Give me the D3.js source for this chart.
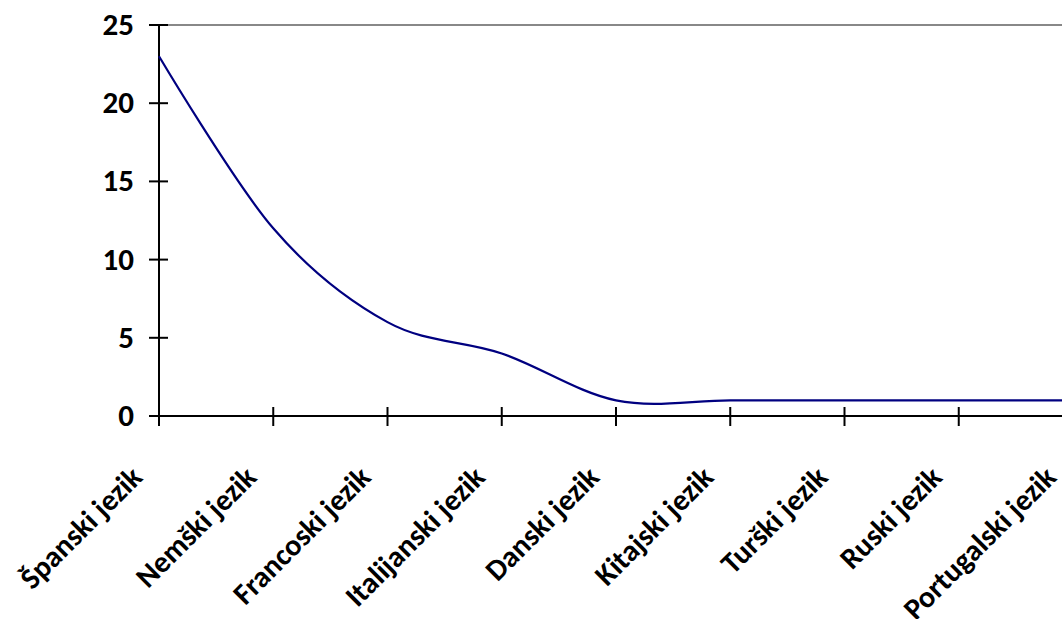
<!DOCTYPE html>
<html><head><meta charset="utf-8">
<script src="https://cdn.jsdelivr.net/npm/d3@7"></script>
<style>
html,body{margin:0;padding:0;background:#fff;overflow:hidden}
svg{display:block}
text{font-family:Carlito,"Open Sans",sans-serif;font-weight:bold;fill:#000}
</style></head>
<body>
<svg id="c" width="1062" height="619"></svg>
<script>
const categories = ["Španski jezik","Nemški jezik","Francoski jezik","Italijanski jezik","Danski jezik","Kitajski jezik","Turški jezik","Ruski jezik","Portugalski jezik"];
const values = [23, 12, 6, 4, 1, 1, 1, 1, 1];
const yTicks = [0, 5, 10, 15, 20, 25];

const svg = d3.select("#c");
const x0 = 159, x1 = 1073, yB = 416, yT = 25;
const x = d3.scalePoint().domain(categories).range([x0, x1]);
const y = d3.scaleLinear().domain([0, 25]).range([yB, yT]);

// top gray border
svg.append("line").attr("x1", x0).attr("x2", 1062).attr("y1", y(25)).attr("y2", y(25))
  .attr("stroke", "#888").attr("stroke-width", 2);

// y axis
const ya = svg.append("g");
ya.append("line").attr("x1", x0).attr("x2", x0).attr("y1", yT).attr("y2", yB + 10)
  .attr("stroke", "#000").attr("stroke-width", 2);
ya.selectAll("line.t").data(yTicks).join("line").attr("class", "t")
  .attr("x1", x0 - 10).attr("x2", x0 + 9).attr("y1", d => y(d)).attr("y2", d => y(d))
  .attr("stroke", "#000").attr("stroke-width", 2);
ya.selectAll("text").data(yTicks).join("text")
  .attr("x", 134).attr("y", d => y(d)).attr("dy", "0.32em")
  .attr("text-anchor", "end").style("font-size", "31px").text(d => d);

// x axis
const xa = svg.append("g");
xa.append("line").attr("x1", x0 - 10).attr("x2", 1062).attr("y1", yB).attr("y2", yB)
  .attr("stroke", "#000").attr("stroke-width", 2);
xa.selectAll("line.t").data(categories).join("line").attr("class", "t")
  .attr("x1", d => x(d)).attr("x2", d => x(d)).attr("y1", yB - 9).attr("y2", yB + 10)
  .attr("stroke", "#000").attr("stroke-width", 2);
xa.selectAll("text").data(categories).join("text")
  .attr("text-anchor", "end")
  .attr("transform", d => `translate(${x(d) - 15},${yB + 63}) rotate(-45)`)
  .style("font-size", "30px").text(d => d);

// line
const line = d3.line().x((d, i) => x(categories[i])).y(d => y(d)).curve(d3.curveCardinal.tension(0));
svg.append("path").datum(values).attr("d", line)
  .attr("fill", "none").attr("stroke", "#000080").attr("stroke-width", 2.2);
</script>
</body></html>
